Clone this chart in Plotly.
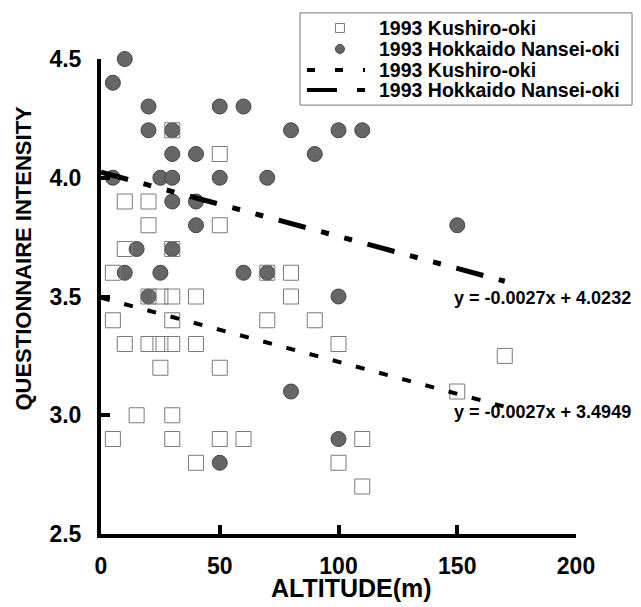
import plotly.graph_objects as go

# ---- data ----
kushiro_x = [50, 10, 20, 20, 50, 10, 30, 5, 70, 80, 20, 25, 30, 40, 80,
             5, 30, 70, 90, 10, 20, 25, 30, 40, 100, 25, 50, 170, 150,
             15, 30, 5, 30, 50, 60, 110, 40, 100, 110, 30]
kushiro_y = [4.1, 3.9, 3.9, 3.8, 3.8, 3.7, 3.7, 3.6, 3.6, 3.6, 3.5, 3.5, 3.5, 3.5, 3.5,
             3.4, 3.4, 3.4, 3.4, 3.3, 3.3, 3.3, 3.3, 3.3, 3.3, 3.2, 3.2, 3.25, 3.1,
             3.0, 3.0, 2.9, 2.9, 2.9, 2.9, 2.9, 2.8, 2.8, 2.7, 4.2]

nansei_x = [10, 5, 20, 50, 60, 20, 30, 80, 100, 110, 30, 40, 90,
            5, 25, 30, 50, 70, 30, 40, 40, 150, 15, 30,
            10, 25, 60, 70, 20, 100, 80, 100, 50]
nansei_y = [4.5, 4.4, 4.3, 4.3, 4.3, 4.2, 4.2, 4.2, 4.2, 4.2, 4.1, 4.1, 4.1,
            4.0, 4.0, 4.0, 4.0, 4.0, 3.9, 3.9, 3.8, 3.8, 3.7, 3.7,
            3.6, 3.6, 3.6, 3.6, 3.5, 3.5, 3.1, 2.9, 2.8]

fit_x = [0, 170]
kushiro_fit = [3.4949, 3.0359]
nansei_fit = [4.0232, 3.5642]

series_names = ["1993 Kushiro-oki", "1993 Hokkaido Nansei-oki"]
legend_labels = [series_names[0], series_names[1], series_names[0], series_names[1]]
eq_texts = ["y = -0.0027x + 4.0232", "y = -0.0027x + 3.4949"]
x_ticks = [0, 50, 100, 150, 200]
y_ticks = [2.5, 3.0, 3.5, 4.0, 4.5]

FONT = "Arial, Liberation Sans, sans-serif"
CIRCLE_FILL = "#666666"
SQUARE_LINE = "#7a7a7a"
KUSHIRO_DASH = "9px,15px"
NANSEI_DASH = "28px,16px,8px,16px,8px,16px"

fig = go.Figure()
fig.add_trace(go.Scatter(
    x=nansei_x, y=nansei_y, mode="markers", name=series_names[1],
    marker=dict(symbol="circle", size=15, color=CIRCLE_FILL,
                line=dict(color="#444444", width=1)),
    cliponaxis=False, showlegend=False))
fig.add_trace(go.Scatter(
    x=kushiro_x, y=kushiro_y, mode="markers", name=series_names[0],
    marker=dict(symbol="square-open", size=15, color=SQUARE_LINE,
                line=dict(width=1)),
    cliponaxis=False, showlegend=False))
fig.add_trace(go.Scatter(
    x=fit_x, y=kushiro_fit, mode="lines", name=series_names[0],
    line=dict(color="black", width=4, dash=KUSHIRO_DASH), showlegend=False))
fig.add_trace(go.Scatter(
    x=fit_x, y=nansei_fit, mode="lines", name=series_names[1],
    line=dict(color="black", width=5, dash=NANSEI_DASH), showlegend=False))

# ---- legend box (drawn in paper coordinates) ----
PX = 1 / 475.0  # one pixel in paper units (plot area is 475 x 475)
box_x0, box_x1, box_y0, box_y1 = 0.419, 1.118, 0.903, 1.097
row_y = [1.0653, 1.0211, 0.9768, 0.9347]
icon_cx = 0.503
text_x = 0.581
fig.add_shape(type="rect", xref="paper", yref="paper",
              x0=box_x0, x1=box_x1, y0=box_y0, y1=box_y1,
              line=dict(color="#777777", width=1), fillcolor="white", layer="above")
fig.add_shape(type="rect", xref="paper", yref="paper",
              x0=icon_cx - 4.5 * PX, x1=icon_cx + 4.5 * PX,
              y0=row_y[0] - 4.5 * PX, y1=row_y[0] + 4.5 * PX,
              line=dict(color=SQUARE_LINE, width=1), layer="above")
fig.add_shape(type="circle", xref="paper", yref="paper",
              x0=icon_cx - 4.5 * PX, x1=icon_cx + 4.5 * PX,
              y0=row_y[1] - 4.5 * PX, y1=row_y[1] + 4.5 * PX,
              line=dict(color="#444444", width=1), fillcolor=CIRCLE_FILL, layer="above")
fig.add_shape(type="line", xref="paper", yref="paper",
              x0=0.4337, x1=0.5558, y0=row_y[2], y1=row_y[2],
              line=dict(color="black", width=4, dash="8px,20px"), layer="above")
fig.add_shape(type="line", xref="paper", yref="paper",
              x0=0.4337, x1=0.5558, y0=row_y[3], y1=row_y[3],
              line=dict(color="black", width=4, dash="30px,20px,8px,20px"), layer="above")
for ry, lab in zip(row_y, legend_labels):
    fig.add_annotation(text=lab, xref="paper", yref="paper", x=text_x, y=ry,
                       xanchor="left", yanchor="middle", showarrow=False,
                       font=dict(family=FONT, size=19.5, color="black", weight="bold"))

fig.add_annotation(text=eq_texts[0], xref="paper", yref="y", x=1.12, y=3.494,
                   xanchor="right", yanchor="middle", showarrow=False,
                   font=dict(family=FONT, size=18, color="black", weight="bold"))
fig.add_annotation(text=eq_texts[1], xref="paper", yref="y", x=1.12, y=3.014,
                   xanchor="right", yanchor="middle", showarrow=False,
                   font=dict(family=FONT, size=18, color="black", weight="bold"))
fig.add_annotation(text="QUESTIONNAIRE INTENSITY", xref="paper", yref="paper",
                   x=-0.164, y=0.58, textangle=-90, showarrow=False,
                   xanchor="center", yanchor="middle",
                   font=dict(family=FONT, size=22, color="black", weight="bold"))
fig.add_annotation(text="ALTITUDE(m)", xref="paper", yref="paper",
                   x=0.527, y=-0.113, showarrow=False,
                   xanchor="center", yanchor="middle",
                   font=dict(family=FONT, size=25, color="black", weight="bold"))

# page body has an 8px margin, so the figure is 633x599 drawn at (8, 8)
fig.update_layout(
    width=633, height=599,
    margin=dict(l=93, r=65, t=51, b=73, autoexpand=False),
    paper_bgcolor="white", plot_bgcolor="white",
    font=dict(family=FONT, color="black"),
    showlegend=False,
)
fig.update_xaxes(range=[0, 200], tickvals=x_ticks, showgrid=False, zeroline=False,
                 showline=True, linecolor="black", linewidth=4,
                 ticks="inside", ticklen=9, tickwidth=4, tickcolor="black",
                 ticklabelstandoff=8,
                 tickfont=dict(family=FONT, size=23, color="black", weight="bold"))
fig.update_yaxes(range=[2.5, 4.5], tickvals=y_ticks, tickformat=".1f",
                 showgrid=False, zeroline=False,
                 showline=True, linecolor="black", linewidth=4,
                 ticks="inside", ticklen=9, tickwidth=4, tickcolor="black",
                 ticklabelstandoff=11,
                 tickfont=dict(family=FONT, size=23, color="black", weight="bold"))

fig.write_html("out.html")
